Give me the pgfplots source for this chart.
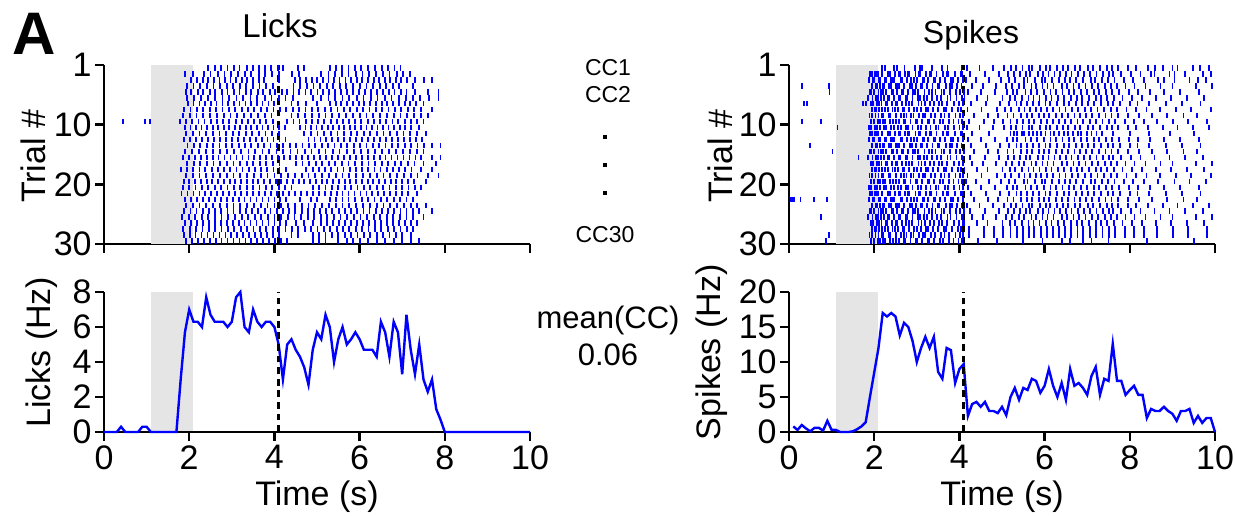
\documentclass[border=0pt]{standalone}
\usepackage{fontspec}
\setmainfont{Liberation Sans}
\usepackage{pgfplots}
\pgfplotsset{compat=1.18}

\definecolor{rastblue}{RGB}{0,0,255}
\definecolor{boxgray}{RGB}{229,229,229}
\newcommand\fs{\fontsize{17}{19}\selectfont}

\tikzset{stim/.style={dash pattern=on 3.4pt off 2.4pt, line width=1.6pt, black}}

\pgfplotsset{
  panel/.style={
    scale only axis, width=213pt,
    axis lines=left, axis line style={-, line width=1.2pt},
    every tick/.style={black, line width=1.2pt},
    tick align=outside, major tick length=4.5pt,
    xmin=0, xmax=10, xtick={0,2,...,10},
    tick label style={font=\fs}, label style={font=\fs},
    yticklabel style={inner xsep=1.5pt},
    xticklabel style={inner ysep=2pt},
    /pgf/number format/assume math mode=true,
  },
  rasterax/.style={panel, height=89.5pt, ymin=0, ymax=30,
    ytick={0,10,20,30}, yticklabels={30,20,10,1}, xticklabels={},
    ylabel={Trial \#}},
  psthax/.style={panel, height=70pt, xlabel={Time (s)}, clip=false},
  ylabpos/.style 2 args={ylabel style={at={([xshift=-#1]axis description cs:0,#2)},
    anchor=center}},
  raster/.style={only marks, mark=|, mark size=1.35pt, color=rastblue,
    mark options={line width=0.9pt}, forget plot},
  psth/.style={color=rastblue, line width=1.2pt, mark=none},
}

% one raster row: trial number, list of event times (s)
\newcommand\trial[2]{%
  \pgfmathsetmacro\ty{30.5-#1}%
  \edef\lst{#2}%
  \gdef\rowc{}%
  \foreach \t in \lst {\xdef\rowc{\rowc(\t,\ty)}}%
  \edef\tmp{\noexpand\addplot[raster] coordinates {\rowc};}\tmp}

% spike-train pieces read off the raster: burst (1.9-4.1 s) and later firing
\def\bA{1.91,1.94,2.02,2.05,2.09,2.18,2.31,2.34,2.37,2.49,2.58,2.61,2.72,2.80,2.83,2.97,3.05,3.08,3.21,3.30,3.33,3.46,3.62,3.70,3.74,3.89,4.03,4.07}
\def\bB{1.88,1.97,2.00,2.11,2.14,2.26,2.29,2.40,2.44,2.47,2.63,2.66,2.77,2.86,2.93,3.01,3.14,3.17,3.26,3.39,3.42,3.55,3.66,3.81,3.85,3.97,4.09}
\def\bC{1.95,2.03,2.07,2.13,2.21,2.24,2.35,2.39,2.52,2.55,2.59,2.70,2.84,2.88,2.99,3.10,3.13,3.24,3.37,3.49,3.52,3.68,3.78,3.82,3.95,4.05}
\def\bD{1.90,1.93,1.99,2.10,2.16,2.20,2.28,2.42,2.45,2.53,2.64,2.68,2.79,2.91,2.95,3.03,3.18,3.28,3.35,3.44,3.58,3.64,3.77,3.92,4.02,4.10}
\def\bE{1.86,1.96,2.04,2.08,2.15,2.23,2.33,2.36,2.46,2.57,2.60,2.74,2.78,2.90,3.02,3.07,3.16,3.23,3.36,3.48,3.57,3.72,3.79,3.93,4.06}
\def\bF{1.92,1.98,2.06,2.12,2.17,2.27,2.30,2.41,2.50,2.54,2.65,2.75,2.82,2.89,3.04,3.11,3.19,3.31,3.40,3.53,3.60,3.71,3.87,3.99,4.08}
\def\bG{1.94,2.01,2.05,2.12,2.19,2.25,2.32,2.43,2.48,2.56,2.67,2.71,2.81,2.94,3.00,3.09,3.22,3.27,3.38,3.50,3.63,3.69,3.83,3.96,4.04}
\def\bH{1.89,1.95,2.03,2.10,2.18,2.22,2.34,2.38,2.51,2.62,2.69,2.76,2.87,2.92,3.06,3.15,3.20,3.34,3.43,3.56,3.65,3.76,3.91,4.01,4.08}
\def\bI{1.93,2.00,2.09,2.13,2.20,2.26,2.37,2.44,2.52,2.58,2.70,2.73,2.85,2.98,3.01,3.12,3.25,3.29,3.41,3.54,3.61,3.75,3.86,3.98,4.06}
\def\bJ{1.87,1.92,2.01,2.06,2.14,2.23,2.28,2.39,2.47,2.55,2.63,2.74,2.79,2.90,3.03,3.10,3.21,3.32,3.45,3.51,3.67,3.73,3.88,4.00,4.09}
\def\pA{4.18,4.47,4.79,5.05,5.21,5.33,5.48,5.63,5.71,5.90,6.04,6.12,6.29,6.44,6.55,6.71,6.83,7.02,7.13,7.30,7.46,7.58,7.72,7.95,8.14,8.42,8.77,9.12,9.48,9.86}
\def\pB{4.25,4.60,4.92,5.14,5.28,5.42,5.57,5.66,5.84,5.97,6.09,6.23,6.36,6.50,6.63,6.78,6.92,7.06,7.22,7.37,7.52,7.61,7.80,8.02,8.25,8.58,8.93,9.30,9.71}
\def\pC{4.15,4.38,4.70,4.98,5.17,5.31,5.52,5.60,5.77,5.93,6.01,6.18,6.33,6.47,6.60,6.74,6.90,7.09,7.18,7.34,7.49,7.64,7.86,8.07,8.33,8.66,9.05,9.40,9.79}
\def\pD{4.30,4.55,4.86,5.09,5.24,5.39,5.51,5.69,5.80,5.95,6.07,6.21,6.40,6.52,6.68,6.80,6.96,7.11,7.26,7.41,7.55,7.69,7.90,8.11,8.37,8.72,9.00,9.55,9.92}
\def\pE{4.21,4.50,4.83,5.11,5.26,5.36,5.55,5.68,5.82,5.99,6.14,6.26,6.42,6.57,6.69,6.85,6.99,7.15,7.28,7.44,7.59,7.75,7.98,8.20,8.48,8.80,9.18,9.62}
\def\pF{4.12,4.42,4.66,5.01,5.19,5.30,5.46,5.62,5.74,5.88,6.03,6.16,6.31,6.45,6.61,6.76,6.88,7.04,7.20,7.32,7.47,7.62,7.83,8.05,8.29,8.62,8.97,9.35,9.74}
\def\pG{4.28,4.63,4.95,5.16,5.34,5.45,5.59,5.73,5.87,6.02,6.13,6.30,6.46,6.58,6.73,6.87,7.01,7.16,7.33,7.48,7.60,7.77,8.00,8.18,8.45,8.85,9.22,9.66}
\def\pH{4.19,4.52,4.88,5.07,5.22,5.40,5.53,5.65,5.79,5.92,6.06,6.20,6.35,6.49,6.64,6.79,6.94,7.08,7.24,7.39,7.56,7.70,7.92,8.15,8.39,8.70,9.08,9.44,9.90}
\def\pI{4.34,4.68,4.90,5.13,5.27,5.44,5.58,5.70,5.86,5.98,6.11,6.27,6.41,6.54,6.70,6.84,6.98,7.12,7.27,7.43,7.57,7.73,7.96,8.22,8.52,8.88,9.26,9.58}
\def\pJ{4.23,4.57,4.81,5.03,5.20,5.35,5.49,5.64,5.76,5.91,6.05,6.19,6.34,6.48,6.62,6.77,6.91,7.07,7.21,7.36,7.51,7.66,7.88,8.09,8.34,8.64,9.02,9.37,9.81}

\begin{document}
\begin{tikzpicture}
\useasboundingbox (0,0) rectangle (617.5pt,-257.5pt);

% ---------------- licks raster ----------------
\begin{axis}[rasterax, at={(52pt,-122pt)}, anchor=south west, ylabpos={35.5pt}{0.49}]
\fill[boxgray] (axis cs:1.1,0) rectangle (axis cs:2.1,30);
\trial{1}{2.45,2.61,2.74,2.90,3.05,3.18,3.35,3.49,3.63,3.78,3.92,4.09,4.21,4.56,4.70,5.31,5.45,5.59,5.74,5.90,6.04,6.19,6.36,6.52,6.67,6.82,6.96}
\trial{2}{1.90,2.08,2.35,2.50,2.67,2.83,2.98,3.15,3.31,3.46,3.63,3.78,3.95,4.10,4.42,4.58,5.10,5.27,5.42,5.59,5.74,5.91,6.07,6.22,6.39,6.55,6.70,6.87,7.02,7.18}
\trial{3}{2.05,2.18,2.32,2.44,2.58,2.71,2.84,2.97,3.10,3.24,3.36,3.50,3.63,3.76,4.10,4.48,4.61,4.74,4.88,5.00,5.14,5.27,5.40,5.53,5.67,5.79,5.93,6.06,6.19,6.33,6.45,6.59,6.72,6.85,6.98,7.12,7.30,7.52,7.70}
\trial{4}{1.95,2.10,2.26,2.41,2.57,2.72,2.88,3.03,3.19,3.34,3.50,3.65,3.81,3.96,4.45,4.61,4.76,4.92,5.07,5.23,5.38,5.54,5.69,5.85,6.00,6.16,6.31,6.47,6.62,6.78,6.93,7.25}
\trial{5}{1.92,2.05,2.20,2.33,2.48,2.61,2.77,2.90,3.05,3.18,3.33,3.46,3.61,3.74,3.89,4.02,4.17,4.30,4.45,4.58,4.73,4.86,5.01,5.14,5.29,5.42,5.57,5.70,5.85,5.98,6.13,6.26,6.41,6.54,6.69,6.82,6.97,7.10,7.30,7.60,7.85}
\trial{6}{1.95,2.12,2.28,2.45,2.61,2.78,2.94,3.11,3.27,3.44,3.60,3.77,3.93,4.10,4.26,4.43,4.90,5.10,5.27,5.43,5.60,5.76,5.93,6.09,6.26,6.42,6.59,6.75,6.92,7.08,7.25,7.41,7.62,7.85}
\trial{7}{1.97,2.10,2.24,2.37,2.51,2.64,2.78,2.91,3.05,3.18,3.32,3.45,3.59,3.72,3.86,3.99,4.40,4.55,4.75,5.00,5.30,5.44,5.57,5.71,5.84,5.98,6.11,6.25,6.38,6.52,6.65,6.79,6.92,7.06,7.19,7.33,7.50}
\trial{8}{1.88,2.03,2.18,2.33,2.48,2.63,2.78,2.93,3.08,3.23,3.38,3.53,3.68,3.83,3.98,4.13,4.28,4.43,4.58,4.73,4.88,5.03,5.18,5.33,5.48,5.63,5.78,5.93,6.08,6.23,6.38,6.53,6.68,6.83,6.98,7.13,7.28,7.45,7.70}
\trial{9}{1.85,2.01,2.17,2.33,2.49,2.65,2.81,2.97,3.13,3.29,3.45,3.61,3.77,3.93,4.40,4.56,4.72,4.88,5.04,5.20,5.36,5.52,5.68,5.84,6.00,6.16,6.32,6.48,6.64,6.80,6.96,7.12,7.28,7.44,7.60}
\trial{10}{0.45,0.96,1.08,1.78,1.93,2.07,2.22,2.36,2.51,2.65,2.80,2.94,3.09,3.23,3.38,3.52,3.67,3.81,3.96,4.30,4.45,4.59,4.74,4.88,5.03,5.17,5.32,5.46,5.61,5.75,5.90,6.04,6.19,6.33,6.48,6.62,6.77,6.91,7.06,7.20,7.35,7.50}
\trial{11}{1.90,2.03,2.16,2.29,2.42,2.55,2.68,2.81,2.94,3.07,3.20,3.33,3.46,3.59,3.72,3.85,3.98,4.11,4.24,4.60,4.73,4.86,4.99,5.12,5.25,5.38,5.51,5.64,5.77,5.90,6.03,6.16,6.29,6.42,6.55,6.68,6.81,6.94,7.07,7.20,7.40}
\trial{12}{1.93,2.09,2.24,2.40,2.55,2.71,2.86,3.02,3.17,3.33,3.48,3.64,3.79,3.95,4.10,4.70,4.86,5.01,5.17,5.32,5.48,5.63,5.79,5.94,6.10,6.25,6.41,6.56,6.72,6.87,7.03,7.18,7.34,7.55}
\trial{13}{1.88,2.02,2.16,2.30,2.44,2.58,2.72,2.86,3.00,3.14,3.28,3.42,3.56,3.70,3.84,3.98,4.12,4.26,4.80,4.94,5.08,5.22,5.36,5.50,5.64,5.78,5.92,6.06,6.20,6.34,6.48,6.62,6.76,6.90,7.04,7.18,7.32,7.46}
\trial{14}{1.96,2.11,2.26,2.41,2.56,2.71,2.86,3.01,3.16,3.31,3.46,3.61,3.76,3.91,4.06,4.21,4.36,4.51,4.66,4.81,4.96,5.11,5.26,5.41,5.56,5.71,5.86,6.01,6.16,6.31,6.46,6.61,6.76,6.91,7.06,7.21,7.36,7.51,7.70,7.90}
\trial{15}{1.90,2.07,2.23,2.40,2.56,2.73,2.89,3.06,3.22,3.39,3.55,3.72,3.88,4.05,4.21,4.38,4.54,4.71,4.87,5.04,5.20,5.37,5.53,5.70,5.86,6.03,6.19,6.36,6.52,6.69,6.85,7.02,7.18,7.35,7.50}
\trial{16}{1.85,1.99,2.13,2.27,2.41,2.55,2.69,2.83,2.97,3.11,3.25,3.39,3.53,3.67,3.81,3.95,4.09,4.23,4.37,4.51,4.65,4.79,4.93,5.07,5.21,5.35,5.49,5.63,5.77,5.91,6.05,6.19,6.33,6.47,6.61,6.75,6.89,7.03,7.17,7.31,7.45,7.70,7.90}
\trial{17}{1.95,2.11,2.26,2.42,2.57,2.73,2.88,3.04,3.19,3.35,3.50,3.66,3.81,3.97,4.12,4.50,4.66,4.81,4.97,5.12,5.28,5.43,5.59,5.74,5.90,6.05,6.21,6.36,6.52,6.67,6.83,6.98,7.14,7.29,7.50,7.80}
\trial{18}{1.80,1.95,2.09,2.24,2.38,2.53,2.67,2.82,2.96,3.11,3.25,3.40,3.54,3.69,3.83,3.98,4.12,4.27,4.75,4.90,5.04,5.19,5.33,5.48,5.62,5.77,5.91,6.06,6.20,6.35,6.49,6.64,6.78,6.93,7.07,7.22,7.45,7.70}
\trial{19}{1.92,2.08,2.24,2.40,2.56,2.72,2.88,3.04,3.20,3.36,3.52,3.68,3.84,4.00,4.16,4.32,4.48,4.64,4.80,4.96,5.12,5.28,5.44,5.60,5.76,5.92,6.08,6.24,6.40,6.56,6.72,6.88,7.04,7.20,7.36,7.60,7.85}
\trial{20}{1.87,2.00,2.14,2.27,2.41,2.54,2.68,2.81,2.95,3.08,3.22,3.35,3.49,3.62,3.76,3.89,4.03,4.16,4.30,4.43,4.57,4.70,4.84,4.97,5.11,5.24,5.38,5.51,5.65,5.78,5.92,6.05,6.19,6.32,6.46,6.59,6.73,6.86,7.00,7.13,7.27,7.55}
\trial{21}{1.85,2.00,2.15,2.30,2.45,2.60,2.75,2.90,3.05,3.20,3.35,3.50,3.65,3.80,3.95,4.10,4.25,4.40,4.90,5.05,5.20,5.35,5.50,5.65,5.80,5.95,6.10,6.25,6.40,6.55,6.70,6.85,7.00,7.15,7.30,7.45}
\trial{22}{1.82,1.96,2.10,2.24,2.38,2.52,2.66,2.80,2.94,3.08,3.22,3.36,3.50,3.64,3.78,3.92,4.06,4.20,4.34,4.48,4.62,4.76,4.90,5.04,5.18,5.32,5.46,5.60,5.74,5.88,6.02,6.16,6.30,6.44,6.58,6.72,6.86,7.00,7.14,7.35}
\trial{23}{1.90,2.04,2.18,2.32,2.46,2.60,2.74,2.88,3.02,3.16,3.30,3.44,3.58,3.72,3.86,4.00,4.14,4.28,4.60,4.85,5.00,5.30,5.45,5.60,5.74,5.90,6.05,6.20,6.35,6.50,6.65,6.80,6.95,7.10,7.25}
\trial{24}{1.92,2.08,2.24,2.40,2.56,2.72,2.88,3.04,3.20,3.36,3.52,3.68,3.84,4.00,4.16,4.32,4.48,4.64,4.80,4.96,5.12,5.28,5.44,5.60,5.76,5.92,6.08,6.24,6.40,6.56,6.72,6.88,7.04,7.20,7.35,7.55}
\trial{25}{1.88,2.03,2.17,2.32,2.46,2.61,2.75,2.90,3.04,3.19,3.33,3.48,3.62,3.77,3.91,4.06,4.20,4.35,4.49,4.64,4.78,4.93,5.07,5.22,5.36,5.51,5.65,5.80,5.94,6.09,6.23,6.38,6.52,6.67,6.81,6.96,7.10,7.25,7.40,7.70}
\trial{26}{1.83,1.99,2.14,2.30,2.45,2.61,2.76,2.92,3.07,3.23,3.38,3.54,3.69,3.85,4.00,4.16,4.31,4.47,4.62,4.78,4.93,5.09,5.24,5.40,5.55,5.71,5.86,6.02,6.17,6.33,6.48,6.64,6.79,6.95,7.10,7.26,7.50}
\trial{27}{1.90,2.04,2.18,2.32,2.46,2.60,2.74,2.88,3.02,3.16,3.30,3.44,3.58,3.72,3.86,4.00,4.14,4.28,4.50,4.70,4.90,5.10,5.24,5.38,5.52,5.66,5.80,5.94,6.08,6.22,6.36,6.50,6.64,6.78,6.92,7.06,7.20,7.35}
\trial{28}{1.86,2.01,2.16,2.31,2.46,2.61,2.76,2.91,3.06,3.21,3.36,3.51,3.66,3.81,3.96,4.11,4.26,4.41,4.56,4.71,4.86,5.01,5.16,5.31,5.46,5.61,5.76,5.91,6.06,6.21,6.36,6.51,6.66,6.81,6.96,7.11,7.25}
\trial{29}{1.87,2.01,2.15,2.29,2.43,2.57,2.71,2.85,2.99,3.13,3.27,3.41,3.55,3.69,3.83,3.97,4.11,4.40,4.55,4.90,5.05,5.20,5.35,5.50,5.65,5.80,5.95,6.10,6.25,6.40,6.55,6.70,6.85,7.00,7.20}
\trial{30}{1.92,2.06,2.20,2.34,2.48,2.62,2.76,2.90,3.04,3.18,3.32,3.46,3.60,3.74,3.88,4.02,4.16,4.30,4.90,5.05,5.20,5.50,5.70,5.85,6.00,6.20,6.40,6.60,6.80,7.00,7.20,7.40}
\draw[stim] (axis cs:4.1,0) -- (axis cs:4.1,30);
\end{axis}

% ---------------- licks PSTH ----------------
\begin{axis}[psthax, at={(52pt,-216pt)}, anchor=south west, ylabpos={31pt}{0.57},
  ymin=0, ymax=8, ytick={0,2,...,8}, ylabel={Licks (Hz)}]
\fill[boxgray] ([yshift=0.6pt]axis cs:1.1,0) rectangle (axis cs:2.1,8);
\addplot[psth] coordinates {(0,0)(0.1,0)(0.2,0)(0.3,0)(0.4,0.3)(0.5,0)(0.6,0)(0.7,0)(0.8,0)(0.9,0.3)(1.0,0.3)(1.1,0)(1.2,0)(1.3,0)(1.4,0)(1.5,0)(1.6,0)(1.7,0)(1.8,3.0)(1.9,5.7)(2.0,7.0)(2.1,6.3)(2.2,6.3)(2.3,6.0)(2.4,7.7)(2.5,6.7)(2.6,6.3)(2.7,6.3)(2.8,6.3)(2.9,6.0)(3.0,6.3)(3.1,7.7)(3.2,8.0)(3.3,6.0)(3.4,5.7)(3.5,7.0)(3.6,6.3)(3.7,6.0)(3.8,6.3)(3.9,6.3)(4.0,6.0)(4.1,5.0)(4.2,3.0)(4.3,5.0)(4.4,5.3)(4.5,4.7)(4.6,4.3)(4.7,3.7)(4.8,2.7)(4.9,4.7)(5.0,5.7)(5.1,5.3)(5.2,6.7)(5.3,6.0)(5.4,4.0)(5.5,5.3)(5.6,6.0)(5.7,5.0)(5.8,5.3)(5.9,5.7)(6.0,5.3)(6.1,4.7)(6.2,4.7)(6.3,4.7)(6.4,4.3)(6.5,6.3)(6.6,5.7)(6.7,4.3)(6.8,6.3)(6.9,5.7)(7.0,3.3)(7.1,6.7)(7.2,4.7)(7.3,3.3)(7.4,5.0)(7.5,3.0)(7.6,2.3)(7.7,3.0)(7.8,1.3)(7.9,0.7)(8.0,0)(10,0)};
\draw[stim] (axis cs:4.1,0) -- (axis cs:4.1,8);
\end{axis}

% ---------------- spikes raster ----------------
\begin{axis}[rasterax, at={(394.5pt,-122pt)}, anchor=south west, ylabpos={34.5pt}{0.49}]
\fill[boxgray] (axis cs:1.1,0) rectangle (axis cs:2.1,30);
\trial{1}{2.18,2.25,2.47,2.54,2.71,2.95,3.08,3.12,3.36,3.60,3.72,4.05,\pA,8.60,9.00,9.65}
\trial{2}{\bA,\pB,8.50,9.05,9.90}
\trial{3}{\bB,\pC,8.80,9.60}
\trial{4}{0.30,0.94,\bC,\pD}
\trial{5}{0.95,\bD,\pE}
\trial{6}{\bE,\pF}
\trial{7}{0.35,0.43,1.73,1.80,\bF,\pG}
\trial{8}{\bG,\pH}
\trial{9}{\bH,\pI}
\trial{10}{0.30,0.75,\bI,\pJ}
\trial{11}{1.14,\bJ,\pA}
\trial{12}{\bA,4.30,4.70,5.20,5.28,5.36,5.46,5.52,5.64,5.72,5.83,5.92,6.02,6.14,6.22,6.33,6.45,6.54,6.66,6.78,6.86,7.00,7.10,7.22,7.35,7.60,8.00,8.45,8.95,9.50}
\trial{13}{\bB,\pE}
\trial{14}{0.50,\bC,\pG}
\trial{15}{1.02,\bD,\pI}
\trial{16}{1.63,\bE,\pB}
\trial{17}{\bF,\pD}
\trial{18}{\bG,\pF}
\trial{19}{\bH,\pH}
\trial{20}{\bI,\pC}
\trial{21}{\bJ,\pE}
\trial{22}{\bA,\pG}
\trial{23}{0.04,0.08,0.12,0.27,0.59,0.90,\bB,\pI}
\trial{24}{\bC,\pA}
\trial{25}{\bD,\pB}
\trial{26}{0.75,\bE,\pD}
\trial{27}{\bF,\pF}
\trial{28}{\bG,\pJ}
\trial{29}{0.94,\bH,\pJ}
\trial{30}{0.86,\bI,4.44,4.88,5.50,5.95,6.40,6.60,6.90,7.10,7.50,8.40,9.50}
\draw[stim] (axis cs:4.1,0) -- (axis cs:4.1,30);
\end{axis}

% ---------------- spikes PSTH ----------------
\begin{axis}[psthax, at={(394.5pt,-216pt)}, anchor=south west, ylabpos={38.5pt}{0.57},
  ymin=0, ymax=20, ytick={0,5,...,20}, ylabel={Spikes (Hz)}]
\fill[boxgray] ([yshift=0.6pt]axis cs:1.1,0) rectangle (axis cs:2.1,20);
\addplot[psth] coordinates {(0.1,0.8)(0.2,0.3)(0.3,1.0)(0.4,0.5)(0.5,0.1)(0.6,0.6)(0.7,0.6)(0.8,0.2)(0.9,1.6)(1.0,0.3)(1.1,0.3)(1.2,0)(1.3,0)(1.4,0)(1.5,0.1)(1.6,0.4)(1.7,0.8)(1.8,1.4)(1.9,5.0)(2.0,8.5)(2.1,12)(2.2,17)(2.3,16.5)(2.4,17)(2.5,16.5)(2.6,13.8)(2.7,15.6)(2.8,15)(2.9,13)(3.0,10)(3.1,12)(3.2,13.6)(3.3,12)(3.4,13.6)(3.5,8.6)(3.6,7.6)(3.7,12)(3.8,11.7)(3.9,7)(4.0,9)(4.1,9.7)(4.2,2.3)(4.3,4)(4.4,4.3)(4.5,3.6)(4.6,4.3)(4.7,3)(4.8,3)(4.9,2.7)(5.0,3.6)(5.1,2.4)(5.2,5)(5.3,6.3)(5.4,4.6)(5.5,6.3)(5.6,6)(5.7,7.6)(5.8,7.3)(5.9,5.6)(6.0,6.6)(6.1,9)(6.2,6.6)(6.3,5)(6.4,7)(6.5,4.6)(6.6,9)(6.7,6.6)(6.8,7)(6.9,6.3)(7.0,5.3)(7.1,8)(7.2,9.3)(7.3,5.3)(7.4,7.6)(7.5,7.3)(7.6,12.6)(7.7,7.3)(7.8,7.3)(7.9,5.3)(8.0,6)(8.1,6.6)(8.2,5.3)(8.3,5.3)(8.4,2)(8.5,3.3)(8.6,3)(8.7,3)(8.8,3.6)(8.9,3)(9.0,2.6)(9.1,1.6)(9.2,3)(9.3,3)(9.4,3.3)(9.5,1.3)(9.6,2.3)(9.7,1.3)(9.8,2)(9.9,2)(10.0,0)};
\draw[stim] (axis cs:4.1,0) -- (axis cs:4.1,20);
\end{axis}

% ---------------- annotations ----------------
\node[font=\fontsize{30}{32}\selectfont\bfseries] at (17pt,-17pt) {A};
\node[font=\fontsize{16.5}{18}\selectfont, anchor=base] at (140pt,-18.5pt) {Licks};
\node[font=\fontsize{16}{18}\selectfont, anchor=base] at (485.5pt,-21.5pt) {Spikes};
\begin{scope}[every node/.style={font=\fontsize{11.5}{13}\selectfont}]
\node at (304pt,-34pt) {CC1};
\node at (304pt,-47.5pt) {CC2};
\node at (302.5pt,-117.5pt) {CC30};
\end{scope}
\foreach \yy in {-68.5,-82.5,-96.5}
  \fill (301.4pt,\yy pt-1.1pt) rectangle (303.6pt,\yy pt+1.1pt);
\node[font=\fontsize{15.5}{17}\selectfont] at (304pt,-160pt) {mean(CC)};
\node[font=\fontsize{15.5}{17}\selectfont] at (304pt,-177.5pt) {0.06};
\end{tikzpicture}
\end{document}
